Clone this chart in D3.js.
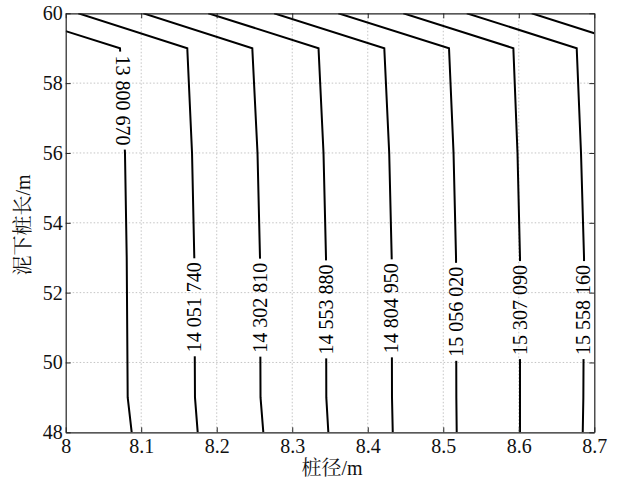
<!DOCTYPE html>
<html>
<head>
<meta charset="utf-8">
<script src="https://cdn.jsdelivr.net/npm/d3@7"></script>
<style>
body { margin: 0; background: #fff; }
</style>
</head>
<body>
<script>
// Contour plot: 桩径 vs 泥下桩长
// ---------------------------------------------
var levels = [13800670, 14051740, 14302810, 14553880, 14804950,
        15056020, 15307090, 15558160, 15809230];
var labelText = ['13 800 670', '14 051 740', '14 302 810', '14 553 880',
        '14 804 950', '15 056 020', '15 307 090', '15 558 160'];

// each contour as [桩径, 泥下桩长] points
var line1 = [[8.0, 59.49], [8.0719, 59], [8.0785, 56], [8.0808, 53], [8.0821, 49], [8.0874, 48]];
var line2 = [[8.0167, 60], [8.1610, 59], [8.1673, 56], [8.1703, 53], [8.1712, 49], [8.1748, 48]];
var line3 = [[8.1028, 60], [8.2471, 59], [8.2540, 56], [8.2573, 53], [8.2580, 49], [8.2617, 48]];
var line4 = [[8.1888, 60], [8.3348, 59], [8.3414, 56], [8.3447, 53], [8.3451, 49], [8.3478, 48]];
var line5 = [[8.2759, 60], [8.4219, 59], [8.4284, 56], [8.4317, 53], [8.4321, 49], [8.4331, 48]];
var line6 = [[8.3610, 60], [8.5076, 59], [8.5136, 56], [8.5169, 53], [8.5173, 49], [8.5178, 48]];
var line7 = [[8.4471, 60], [8.5928, 59], [8.5983, 56], [8.6016, 53], [8.6016, 49], [8.6016, 48]];
var line8 = [[8.5311, 60], [8.6767, 59], [8.6824, 56], [8.6864, 53], [8.6855, 49], [8.6847, 48]];
var line9 = [[8.6171, 60], [8.7, 59.43]];
var contourLines = [line1, line2, line3, line4, line5, line6, line7, line8, line9];

// where the labels sit along each line (泥下桩长) and which way they read
var labelY = [57.5, 51.58, 51.57, 51.52, 51.55, 51.45, 51.5, 51.5];
var labelRot = [90, -90, -90, -90, -90, -90, -90, -90];

var xTicks = [8, 8.1, 8.2, 8.3, 8.4, 8.5, 8.6, 8.7];
var yTicks = [48, 50, 52, 54, 56, 58, 60];

// size
var w = 621;
var h = 482;
var plotL = 65.7, plotT = 13.3, plotR = 594.3, plotB = 432.3;
var fontSize = 20;
var serif = "'Liberation Serif', 'Times New Roman', serif";
var cjk = "'Liberation Serif', 'Noto Serif CJK SC', 'Noto Sans CJK SC', serif";

var x = d3.scaleLinear().domain([8, 8.7]).range([plotL, plotR]);
var y = d3.scaleLinear().domain([48, 60]).range([plotB, plotT]);

var svg = d3.select('body').append('svg').attr('width', w).attr('height', h);

// dotted grid
var grid = svg.append('g').attr('stroke', '#c4c4c4').attr('stroke-width', 1)
    .attr('stroke-dasharray', '1.5,2');
grid.selectAll('.gx').data(xTicks.slice(1, -1)).enter().append('line')
    .attr('x1', function(d) { return x(d); }).attr('x2', function(d) { return x(d); })
    .attr('y1', plotT).attr('y2', plotB);
grid.selectAll('.gy').data(yTicks.slice(1, -1)).enter().append('line')
    .attr('y1', function(d) { return y(d); }).attr('y2', function(d) { return y(d); })
    .attr('x1', plotL).attr('x2', plotR);

// x of a contour at a given 泥下桩长
function xAt(pts, yy) {
    for (var i = 0; i < pts.length - 1; i++) {
        var a = pts[i], b = pts[i + 1];
        if ((yy <= a[1] && yy >= b[1]) || (yy >= a[1] && yy <= b[1])) {
            var t = (yy - a[1]) / (b[1] - a[1]);
            return a[0] + t * (b[0] - a[0]);
        }
    }
    return pts[pts.length - 1][0];
}

var defs = svg.append('defs');
defs.append('clipPath').attr('id', 'plotclip').append('rect')
    .attr('x', plotL).attr('y', plotT).attr('width', plotR - plotL).attr('height', plotB - plotT);
var mask = defs.append('mask').attr('id', 'labelmask')
    .attr('maskUnits', 'userSpaceOnUse').attr('x', 0).attr('y', 0).attr('width', w).attr('height', h);
mask.append('rect').attr('width', w).attr('height', h).attr('fill', '#fff');

// labels first, so the gaps can be cut from the lines
var labels = svg.append('g');
labelText.forEach(function(t, i) {
    var cx = x(xAt(contourLines[i], labelY[i]));
    var cy = y(labelY[i]);
    var txt = labels.append('text')
        .attr('transform', 'translate(' + cx + ',' + cy + ') rotate(' + labelRot[i] + ')')
        .attr('text-anchor', 'middle')
        .attr('dy', '0.33em')
        .style('font-family', serif)
        .style('font-size', fontSize + 'px')
        .attr('fill', '#000')
        .text(t);
    var len = txt.node().getComputedTextLength();
    mask.append('rect')
        .attr('x', cx - 12).attr('width', 24)
        .attr('y', cy - len / 2 - 4).attr('height', len + 8)
        .attr('fill', '#000');
});

var line = d3.line()
    .x(function(d) { return x(d[0]); })
    .y(function(d) { return y(d[1]); });

svg.append('g').attr('clip-path', 'url(#plotclip)')
    .append('g').attr('mask', 'url(#labelmask)')
    .selectAll('path').data(contourLines).enter().append('path')
    .attr('d', line)
    .attr('fill', 'none')
    .attr('stroke', '#000')
    .attr('stroke-width', 2)
    .attr('stroke-linejoin', 'miter');

labels.raise();

// axes, ticks pointing inward
var fmt = function(d) { return String(d); };
var gb = svg.append('g').attr('transform', 'translate(0,' + plotB + ')')
    .call(d3.axisBottom(x).tickValues(xTicks).tickFormat(fmt).tickSizeInner(-5).tickSizeOuter(0).tickPadding(7));
var gl = svg.append('g').attr('transform', 'translate(' + plotL + ',0)')
    .call(d3.axisLeft(y).tickValues(yTicks).tickFormat(fmt).tickSizeInner(-5).tickSizeOuter(0).tickPadding(3));
var gt = svg.append('g').attr('transform', 'translate(0,' + plotT + ')')
    .call(d3.axisTop(x).tickValues(xTicks).tickFormat('').tickSizeInner(-5).tickSizeOuter(0));
var gr = svg.append('g').attr('transform', 'translate(' + plotR + ',0)')
    .call(d3.axisRight(y).tickValues(yTicks).tickFormat('').tickSizeInner(-5).tickSizeOuter(0));

[gb, gl, gt, gr].forEach(function(g) {
    g.selectAll('path').attr('stroke', '#222').attr('stroke-width', 1.2);
    g.selectAll('line').attr('stroke', '#222');
    g.selectAll('text')
        .style('font-family', serif)
        .style('font-size', fontSize + 'px')
        .attr('fill', '#111');
});

// axis titles
svg.append('text')
    .attr('x', 332).attr('y', 475)
    .attr('text-anchor', 'middle')
    .style('font-family', cjk)
    .style('font-size', fontSize + 'px')
    .attr('fill', '#111')
    .text('桩径/m');

svg.append('text')
    .attr('transform', 'translate(30,225) rotate(-90)')
    .attr('text-anchor', 'middle')
    .style('font-family', cjk)
    .style('font-size', fontSize + 'px')
    .attr('fill', '#111')
    .text('泥下桩长/m');
</script>
</body>
</html>
